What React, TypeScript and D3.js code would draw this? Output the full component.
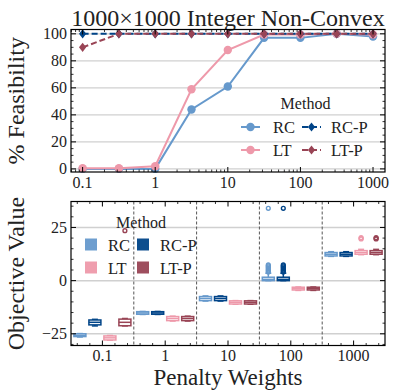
import React from "react";
import * as d3 from "d3";

// ---------- data ----------
const methods = ["RC", "RC-P", "LT", "LT-P"];
const colors: Record<string, string> = { RC: "#6699CC", "RC-P": "#004488", LT: "#EE99AA", "LT-P": "#994455" };

const feasWeights = [0.1, 0.316, 1, 3.16, 10, 31.6, 100, 316, 1000];
const feasRC = [0, 0, 0, 44, 61, 97, 97, 100, 98];
const feasLT = [0.5, 0.5, 2, 59, 88, 99.5, 99.5, 100, 99.5];
const feasRCP = [100, 100, 100, 100, 100, 100, 100, 100, 100];
const feasLTP = [90, 100, 100, 100, 100, 100, 100, 100, 100];

const topXTicks = [0.1, 1, 10, 100, 1000];
const topYTicks = [0, 20, 40, 60, 80, 100];

const weightLabels = ["0.1", "1", "10", "100", "1000"];
// box stats: [whislo, q1, median, q3, whishi]
const boxRC = [[-26.5, -26.3, -25.7, -25.0, -24.9], [-15.9, -15.8, -15.2, -14.6, -14.5], [-9.6, -9.4, -8.4, -7.5, -7.2], [0, 0, 0.6, 1.6, 3.5], [11.4, 11.6, 12.4, 13.2, 13.6]];
const boxRCP = [[-21.3, -20.8, -19.6, -18.5, -18.2], [-15.9, -15.8, -15.2, -14.6, -14.5], [-9.6, -9.4, -8.4, -7.5, -7.2], [0, 0, 0.6, 1.6, 3.5], [11.4, 11.6, 12.4, 13.2, 13.6]];
const boxLT = [[-28.0, -27.9, -26.9, -26.0, -25.8], [-19.0, -18.8, -17.8, -16.9, -16.7], [-11.1, -11.0, -10.2, -9.5, -9.4], [-4.6, -4.4, -3.8, -3.1, -3.0], [12.2, 12.4, 13.2, 14.1, 14.7]];
const boxLTP = [[-21.3, -21.2, -19.6, -18.1, -17.8], [-19.0, -18.8, -17.8, -16.9, -16.7], [-11.1, -11.0, -10.2, -9.5, -9.4], [-4.6, -4.4, -3.8, -3.1, -3.0], [12.2, 12.4, 13.2, 14.1, 14.7]];
const fliersRC = [[], [], [], [4, 4.5, 5, 5.5, 6, 6.5, 7, 7.4, 34], []];
const fliersRCP = [[], [], [], [4, 4.5, 5, 5.5, 6, 6.5, 7, 7.4, 34], []];
const fliersLT = [[], [], [], [], [19.6, 19.9, 20.2]];
const fliersLTP = [[23.5], [], [], [], [19.6, 19.9, 20.2]];
const botYTicks = [-25, 0, 25];

// ---------- layout ----------
const FONT = "Liberation Serif, DejaVu Serif, serif";
const TXT = "#222";
const L = 71, R = 385;
const T1 = 29.5, B1 = 172;
const T2 = 201.5, B2 = 345.5;

export default function App() {
  const x1 = d3.scaleLog().domain([Math.pow(10, -1.16), Math.pow(10, 3.165)]).range([L, R]);
  const y1 = d3.scaleLinear().domain([-2.3, 103.2]).range([B1, T1]);
  const xb = d3.scaleBand().domain(weightLabels).range([L, R]).padding(0);
  const y2 = d3.scaleLinear().domain([-30.5, 37.2]).range([B2, T2]);
  const bw = xb.bandwidth();
  const hueStep = 15;
  const boxW = 12;

  const line = d3.line<number>().x((_, i) => x1(feasWeights[i])).y((d) => y1(d));

  const series = [
    { name: "RC", vals: feasRC, dash: "", marker: "circle" },
    { name: "LT", vals: feasLT, dash: "", marker: "circle" },
    { name: "RC-P", vals: feasRCP, dash: "6,3", marker: "diamond" },
    { name: "LT-P", vals: feasLTP, dash: "6,3", marker: "diamond" },
  ];

  const marker = (type: string, cx: number, cy: number, c: string, key: any) =>
    type === "circle" ? (
      <circle key={key} cx={cx} cy={cy} r={4.2} fill={c} />
    ) : (
      <path key={key} d={`M${cx},${cy - 4.6}L${cx + 3.6},${cy}L${cx},${cy + 4.6}L${cx - 3.6},${cy}Z`} fill={c} />
    );

  const logMinor: number[] = [];
  for (let e = -2; e <= 3; e++) for (let k = 2; k <= 9; k++) {
    const v = k * Math.pow(10, e);
    if (x1(v) > L && x1(v) < R) logMinor.push(v);
  }
  const y1Minor = d3.range(0, 101, 5).filter((v) => v % 20 !== 0);
  const y2Minor = d3.range(-30, 36, 5).filter((v) => v % 25 !== 0);
  const xbMinor: number[] = [];
  for (let g = 0; g < 5; g++) for (let k = -2; k <= 2; k++) {
    if (k === 0) continue;
    const px = (xb(weightLabels[g]) as number) + bw / 2 + k * bw / 5;
    if (px > L + 1 && px < R - 1) xbMinor.push(px);
  }

  const boxes = [boxRC, boxRCP, boxLT, boxLTP];
  const fliers = [fliersRC, fliersRCP, fliersLT, fliersLTP];

  return (
    <svg width={393} height={390} style={{ display: "block", position: "absolute", left: 0, top: 0, fontFamily: FONT }}>
      <rect width={393} height={390} fill="#fff" />
      {/* ---------- TOP PANEL ---------- */}
      <text x={(L + R) / 2} y={25.5} textAnchor="middle" fontSize={24} fill={TXT}>1000×1000 Integer Non-Convex</text>
      {topYTicks.map((t) => (
        <line key={"g" + t} x1={L} x2={R} y1={y1(t)} y2={y1(t)} stroke="#d0d0d0" strokeWidth={1.2} />
      ))}
      {series.map((s) => (
        <g key={s.name}>
          <path d={line(s.vals) as string} fill="none" stroke={colors[s.name]} strokeWidth={2} strokeDasharray={s.dash || undefined} />
          {s.vals.map((v, i) => marker(s.marker, x1(feasWeights[i]), y1(v), colors[s.name], i))}
        </g>
      ))}
      <rect x={L} y={T1} width={R - L} height={B1 - T1} fill="none" stroke="#000" strokeWidth={1.2} />
      {topYTicks.map((t) => (
        <g key={"yt" + t}>
          <line x1={L} x2={L + 5} y1={y1(t)} y2={y1(t)} stroke="#000" />
          <line x1={R} x2={R - 5} y1={y1(t)} y2={y1(t)} stroke="#000" />
          <text x={L - 4} y={y1(t) + 5.5} textAnchor="end" fontSize={16} fill={TXT}>{t}</text>
        </g>
      ))}
      {y1Minor.map((t) => (
        <g key={"ym" + t}>
          <line x1={L} x2={L + 2.5} y1={y1(t)} y2={y1(t)} stroke="#000" strokeWidth={0.8} />
          <line x1={R} x2={R - 2.5} y1={y1(t)} y2={y1(t)} stroke="#000" strokeWidth={0.8} />
        </g>
      ))}
      {topXTicks.map((t) => (
        <g key={"xt" + t}>
          <line x1={x1(t)} x2={x1(t)} y1={B1} y2={B1 - 5} stroke="#000" />
          <line x1={x1(t)} x2={x1(t)} y1={T1} y2={T1 + 5} stroke="#000" />
          <text x={x1(t)} y={188} textAnchor="middle" fontSize={16} fill={TXT}>{t}</text>
        </g>
      ))}
      {logMinor.map((t, i) => (
        <g key={"xm" + i}>
          <line x1={x1(t)} x2={x1(t)} y1={B1} y2={B1 - 2.5} stroke="#000" strokeWidth={0.8} />
          <line x1={x1(t)} x2={x1(t)} y1={T1} y2={T1 + 2.5} stroke="#000" strokeWidth={0.8} />
        </g>
      ))}
      <text transform={`translate(24,${(T1 + B1) / 2}) rotate(-90)`} textAnchor="middle" fontSize={24} fill={TXT}>% Feasibility</text>
      <text x={305.5} y={109} textAnchor="middle" fontSize={16} fill={TXT}>Method</text>
      {[["RC", 241, 127, "", "circle"], ["RC-P", 302, 127, "6,3", "diamond"], ["LT", 241, 150, "", "circle"], ["LT-P", 302, 150, "6,3", "diamond"]].map(([n, lx, ly, dash, mk]: any) => (
        <g key={"lg" + n}>
          <line x1={lx} x2={lx + 19} y1={ly} y2={ly} stroke={colors[n]} strokeWidth={2} strokeDasharray={dash || undefined} />
          {marker(mk, lx + 9.5, ly, colors[n], "m")}
          <text x={lx + (n.length > 2 ? 29 : 32)} y={ly + 5.5} fontSize={16.5} fill={TXT}>{n}</text>
        </g>
      ))}

      {/* ---------- BOTTOM PANEL ---------- */}
      {botYTicks.map((t) => (
        <line key={"g2" + t} x1={L} x2={R} y1={y2(t)} y2={y2(t)} stroke="#d0d0d0" strokeWidth={1.5} />
      ))}
      {weightLabels.slice(1).map((w) => (
        <line key={"sep" + w} x1={xb(w) as number} x2={xb(w) as number} y1={T2} y2={B2} stroke="#555" strokeWidth={1} strokeDasharray="3,2" />
      ))}
      {weightLabels.map((w, g) => {
        const gc = (xb(w) as number) + bw / 2;
        return (
          <g key={"grp" + w}>
            {methods.map((m, hi) => {
              const cx = gc + (hi - 1.5) * hueStep;
              const [wl, q1, md, q3, wh] = boxes[hi][g];
              const c = colors[m];
              return (
                <g key={m}>
                  <line x1={cx} x2={cx} y1={y2(q3)} y2={y2(wh)} stroke={c} strokeWidth={1.5} />
                  <line x1={cx} x2={cx} y1={y2(q1)} y2={y2(wl)} stroke={c} strokeWidth={1.5} />
                  <line x1={cx - 3} x2={cx + 3} y1={y2(wh)} y2={y2(wh)} stroke={c} strokeWidth={1.5} />
                  <line x1={cx - 3} x2={cx + 3} y1={y2(wl)} y2={y2(wl)} stroke={c} strokeWidth={1.5} />
                  <rect x={cx - boxW / 2} y={y2(q3)} width={boxW} height={Math.max(y2(q1) - y2(q3), 1)} fill="#fff" stroke={c} strokeWidth={1.5} />
                  <line x1={cx - boxW / 2} x2={cx + boxW / 2} y1={y2(md)} y2={y2(md)} stroke={c} strokeWidth={1.5} />
                  {fliers[hi][g].map((f, k) => (
                    <circle key={k} cx={cx} cy={y2(f)} r={1.9} fill="none" stroke={c} strokeWidth={1.4} />
                  ))}
                </g>
              );
            })}
          </g>
        );
      })}
      <rect x={L} y={T2} width={R - L} height={B2 - T2} fill="none" stroke="#000" strokeWidth={1.2} />
      {botYTicks.map((t) => (
        <g key={"yt2" + t}>
          <line x1={L} x2={L + 5} y1={y2(t)} y2={y2(t)} stroke="#000" />
          <line x1={R} x2={R - 5} y1={y2(t)} y2={y2(t)} stroke="#000" />
          <text x={L - 4} y={y2(t) + 5.5} textAnchor="end" fontSize={16} fill={TXT}>{t < 0 ? "−" + Math.abs(t) : t}</text>
        </g>
      ))}
      {y2Minor.map((t) => (
        <g key={"ym2" + t}>
          <line x1={L} x2={L + 2.5} y1={y2(t)} y2={y2(t)} stroke="#000" strokeWidth={0.8} />
          <line x1={R} x2={R - 2.5} y1={y2(t)} y2={y2(t)} stroke="#000" strokeWidth={0.8} />
        </g>
      ))}
      {weightLabels.map((w) => {
        const gc = (xb(w) as number) + bw / 2;
        return (
          <g key={"xt2" + w}>
            <line x1={gc} x2={gc} y1={B2} y2={B2 - 5} stroke="#000" />
            <line x1={gc} x2={gc} y1={T2} y2={T2 + 5} stroke="#000" />
            <text x={gc} y={361} textAnchor="middle" fontSize={16} fill={TXT}>{w}</text>
          </g>
        );
      })}
      {xbMinor.map((px, i) => (
        <g key={"xbm" + i}>
          <line x1={px} x2={px} y1={B2} y2={B2 - 2.5} stroke="#000" strokeWidth={0.8} />
          <line x1={px} x2={px} y1={T2} y2={T2 + 2.5} stroke="#000" strokeWidth={0.8} />
        </g>
      ))}
      <text transform={`translate(24,${(T2 + B2) / 2}) rotate(-90)`} textAnchor="middle" fontSize={24} fill={TXT}>Objective Value</text>
      <text x={(L + R) / 2} y={385} textAnchor="middle" fontSize={23} fill={TXT}>Penalty Weights</text>
      <text x={141} y={228} textAnchor="middle" fontSize={16} fill={TXT}>Method</text>
      {[["RC", 85, 238.5], ["RC-P", 137, 238.5], ["LT", 85, 261.5], ["LT-P", 137, 261.5]].map(([n, lx, ly]: any) => (
        <g key={"bl" + n}>
          <rect x={lx} y={ly} width={12} height={12} fill={colors[n]} opacity={0.95} />
          <text x={lx + 23} y={ly + 12} fontSize={16.5} fill={TXT}>{n}</text>
        </g>
      ))}
    </svg>
  );
}
